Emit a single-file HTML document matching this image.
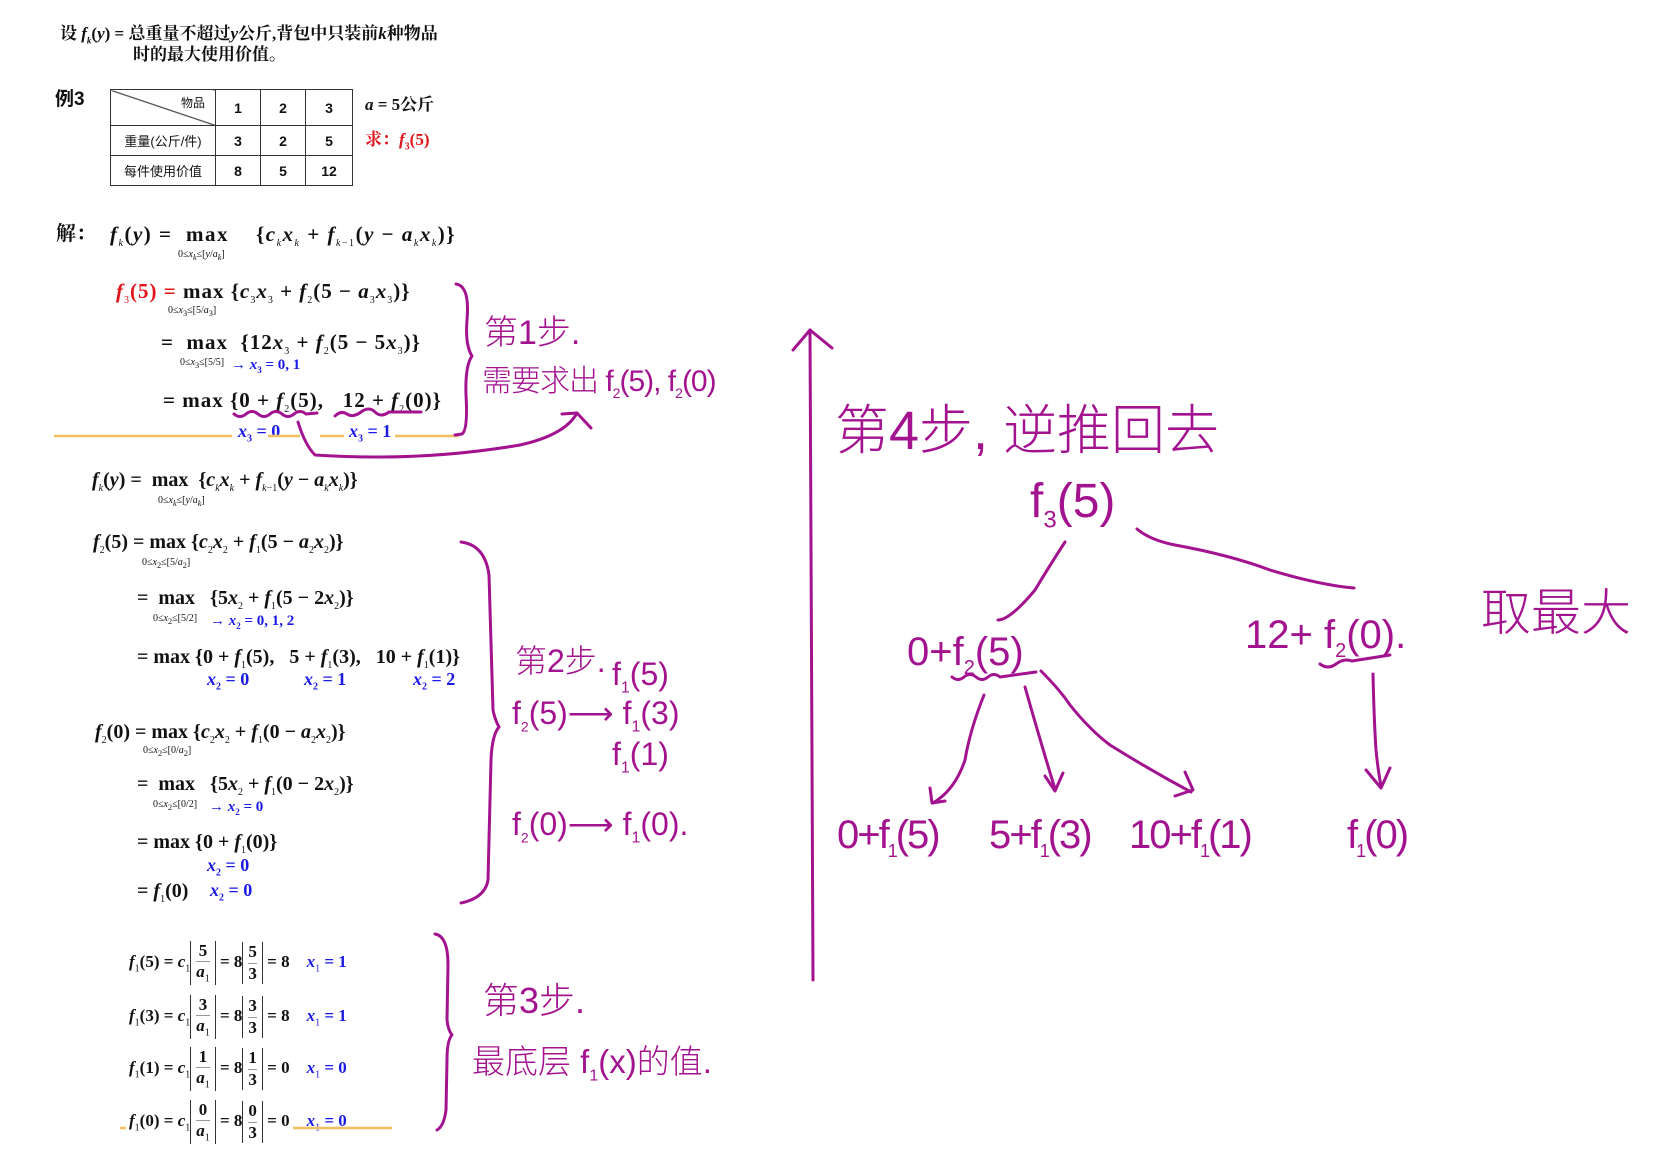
<!DOCTYPE html>
<html><head><meta charset="utf-8">
<style>
body{margin:0;background:#fff;}
#c{position:relative;width:1674px;height:1165px;overflow:hidden;background:#fff;font-family:"Liberation Serif","Noto Serif CJK SC",serif;color:#111;}
.t{position:absolute;white-space:nowrap;line-height:1;}
.m{font-weight:bold;font-size:21px;}
.i{font-style:italic;}
.b{color:#1a1ae6;font-weight:bold;}
.r{color:#e0161b;}
.s{font-size:10px;font-weight:normal;}
.h{color:#a3128f;font-family:"Liberation Sans","Noto Sans CJK SC",sans-serif;font-weight:300;}
.cn{font-family:"Liberation Serif","Noto Serif CJK SC",serif;}
table{border-collapse:collapse;position:absolute;left:110px;top:89px;font-family:"Liberation Sans","Noto Sans CJK SC",sans-serif;font-size:14px;font-weight:bold;}
td{border:1.5px solid #333;text-align:center;padding:0;}
.fr{display:inline-block;vertical-align:middle;text-align:center;border-left:1.5px solid #333;border-right:1.5px solid #333;padding:0 5px;font-size:17px;line-height:1.2;}
.fr span{display:block;}
.fr .n{border-bottom:1px solid #999;}
</style></head><body><div id="c">

<div class="t cn" style="left:60px;top:25px;font-size:17px;font-weight:bold;">设 <i>f<sub style="font-size:9px">k</sub></i>(<i>y</i>) = 总重量不超过<i>y</i>公斤,背包中只装前<i>k</i>种物品</div>
<div class="t cn" style="left:133px;top:46px;font-size:17px;font-weight:bold;">时的最大使用价值。</div>

<div class="t" style="left:55px;top:90px;font-size:19px;font-weight:bold;font-family:'Liberation Sans','Noto Sans CJK SC',sans-serif;">例3</div>
<table>
<tr style="height:36px"><td style="width:104px;position:relative;background:linear-gradient(to bottom left,transparent 48.5%,#555 49.5%,#555 50.5%,transparent 51.5%);"><span style="position:absolute;right:10px;top:4px;font-size:12px;font-weight:normal">物品</span></td><td style="width:44px">1</td><td style="width:44px">2</td><td style="width:46px">3</td></tr>
<tr style="height:30px"><td style="font-weight:normal;font-size:13px;">重量(公斤/件)</td><td>3</td><td>2</td><td>5</td></tr>
<tr style="height:30px"><td style="font-weight:normal;font-size:13px;">每件使用价值</td><td>8</td><td>5</td><td>12</td></tr>
</table>
<div class="t m" style="left:365px;top:96px;font-size:17px;"><i>a</i> = 5公斤</div>
<div class="t m r" style="left:365px;top:131px;font-size:17px;">求：<i>f</i><sub style="font-size:10px">3</sub>(5)</div>

<!-- block 1 -->
<div class="t m" style="left:56px;top:224px;font-size:20px;">解：</div>
<div class="t m" style="left:110px;top:224px;letter-spacing:1.5px;"><i>f<sub class="s">k</sub></i>(<i>y</i>) = &nbsp;max &nbsp;&nbsp;&nbsp;{<i>c<sub class="s">k</sub>x<sub class="s">k</sub></i> + <i>f<sub class="s">k</sub></i><sub class="s">−1</sub>(<i>y</i> − <i>a<sub class="s">k</sub>x<sub class="s">k</sub></i>)}</div>
<div class="t s" style="left:178px;top:250px;">0≤<i>x<sub>k</sub></i>≤[<i>y</i>/<i>a<sub>k</sub></i>]</div>

<div class="t m" style="left:116px;top:281px;letter-spacing:1px;"><span class="r"><i>f</i><sub class="s">3</sub>(5) =</span> max {<i>c</i><sub class="s">3</sub><i>x</i><sub class="s">3</sub> + <i>f</i><sub class="s">2</sub>(5 − <i>a</i><sub class="s">3</sub><i>x</i><sub class="s">3</sub>)}</div>
<div class="t s" style="left:168px;top:306px;">0≤<i>x</i><sub>3</sub>≤[5/<i>a</i><sub>3</sub>]</div>

<div class="t m" style="left:161px;top:332px;letter-spacing:1px;">= &nbsp;max &nbsp;{12<i>x</i><sub class="s">3</sub> + <i>f</i><sub class="s">2</sub>(5 − 5<i>x</i><sub class="s">3</sub>)}</div>
<div class="t s" style="left:180px;top:358px;">0≤<i>x</i><sub>3</sub>≤[5/5]</div>
<div class="t b" style="left:231px;top:358px;font-size:15px;">→ <i>x</i><sub style="font-size:9px">3</sub> = 0, 1</div>

<div class="t m" style="left:163px;top:390px;letter-spacing:1px;">= max {0 + <i>f</i><sub class="s">2</sub>(5), &nbsp;&nbsp;12 + <i>f</i><sub class="s">2</sub>(0)}</div>
<div class="t b" style="left:238px;top:422px;font-size:18px;"><i>x</i><sub style="font-size:10px">3</sub> = 0</div>
<div class="t b" style="left:349px;top:422px;font-size:18px;"><i>x</i><sub style="font-size:10px">3</sub> = 1</div>

<!-- block 2 -->
<div class="t m" style="left:92px;top:470px;font-size:20px;"><i>f<sub class="s">k</sub></i>(<i>y</i>) = &nbsp;max &nbsp;{<i>c<sub class="s">k</sub>x<sub class="s">k</sub></i> + <i>f<sub class="s">k</sub></i><sub class="s">−1</sub>(<i>y</i> − <i>a<sub class="s">k</sub>x<sub class="s">k</sub></i>)}</div>
<div class="t s" style="left:158px;top:496px;">0≤<i>x<sub>k</sub></i>≤[<i>y</i>/<i>a<sub>k</sub></i>]</div>

<div class="t m" style="left:93px;top:532px;font-size:20px;"><i>f</i><sub class="s">2</sub>(5) = max {<i>c</i><sub class="s">2</sub><i>x</i><sub class="s">2</sub> + <i>f</i><sub class="s">1</sub>(5 − <i>a</i><sub class="s">2</sub><i>x</i><sub class="s">2</sub>)}</div>
<div class="t s" style="left:142px;top:558px;">0≤<i>x</i><sub>2</sub>≤[5/<i>a</i><sub>2</sub>]</div>

<div class="t m" style="left:137px;top:588px;font-size:20px;">= &nbsp;max &nbsp;&nbsp;{5<i>x</i><sub class="s">2</sub> + <i>f</i><sub class="s">1</sub>(5 − 2<i>x</i><sub class="s">2</sub>)}</div>
<div class="t s" style="left:153px;top:614px;">0≤<i>x</i><sub>2</sub>≤[5/2]</div>
<div class="t b" style="left:210px;top:614px;font-size:15px;">→ <i>x</i><sub style="font-size:9px">2</sub> = 0, 1, 2</div>

<div class="t m" style="left:137px;top:647px;font-size:20px;">= max {0 + <i>f</i><sub class="s">1</sub>(5), &nbsp;&nbsp;5 + <i>f</i><sub class="s">1</sub>(3), &nbsp;&nbsp;10 + <i>f</i><sub class="s">1</sub>(1)}</div>
<div class="t b" style="left:207px;top:670px;font-size:18px;"><i>x</i><sub style="font-size:10px">2</sub> = 0</div>
<div class="t b" style="left:304px;top:670px;font-size:18px;"><i>x</i><sub style="font-size:10px">2</sub> = 1</div>
<div class="t b" style="left:413px;top:670px;font-size:18px;"><i>x</i><sub style="font-size:10px">2</sub> = 2</div>

<div class="t m" style="left:95px;top:722px;font-size:20px;"><i>f</i><sub class="s">2</sub>(0) = max {<i>c</i><sub class="s">2</sub><i>x</i><sub class="s">2</sub> + <i>f</i><sub class="s">1</sub>(0 − <i>a</i><sub class="s">2</sub><i>x</i><sub class="s">2</sub>)}</div>
<div class="t s" style="left:143px;top:746px;">0≤<i>x</i><sub>2</sub>≤[0/<i>a</i><sub>2</sub>]</div>

<div class="t m" style="left:137px;top:774px;font-size:20px;">= &nbsp;max &nbsp;&nbsp;{5<i>x</i><sub class="s">2</sub> + <i>f</i><sub class="s">1</sub>(0 − 2<i>x</i><sub class="s">2</sub>)}</div>
<div class="t s" style="left:153px;top:800px;">0≤<i>x</i><sub>2</sub>≤[0/2]</div>
<div class="t b" style="left:209px;top:800px;font-size:15px;">→ <i>x</i><sub style="font-size:9px">2</sub> = 0</div>

<div class="t m" style="left:137px;top:832px;font-size:20px;">= max {0 + <i>f</i><sub class="s">1</sub>(0)}</div>
<div class="t b" style="left:207px;top:856px;font-size:18px;"><i>x</i><sub style="font-size:10px">2</sub> = 0</div>
<div class="t m" style="left:137px;top:881px;font-size:20px;">= <i>f</i><sub class="s">1</sub>(0)</div>
<div class="t b" style="left:210px;top:881px;font-size:18px;"><i>x</i><sub style="font-size:10px">2</sub> = 0</div>

<!-- block 3 -->
<div class="t m" style="left:129px;top:938px;font-size:17px;line-height:48px;"><i>f</i><sub class="s">1</sub>(5) = <i>c</i><sub class="s">1</sub><span class="fr"><span class="n">5</span><span><i>a</i><sub class="s">1</sub></span></span> = 8<span class="fr"><span class="n">5</span><span>3</span></span> = 8 &nbsp;&nbsp;&nbsp;<span class="b"><i>x</i><sub class="s">1</sub> = 1</span></div>
<div class="t m" style="left:129px;top:992px;font-size:17px;line-height:48px;"><i>f</i><sub class="s">1</sub>(3) = <i>c</i><sub class="s">1</sub><span class="fr"><span class="n">3</span><span><i>a</i><sub class="s">1</sub></span></span> = 8<span class="fr"><span class="n">3</span><span>3</span></span> = 8 &nbsp;&nbsp;&nbsp;<span class="b"><i>x</i><sub class="s">1</sub> = 1</span></div>
<div class="t m" style="left:129px;top:1044px;font-size:17px;line-height:48px;"><i>f</i><sub class="s">1</sub>(1) = <i>c</i><sub class="s">1</sub><span class="fr"><span class="n">1</span><span><i>a</i><sub class="s">1</sub></span></span> = 8<span class="fr"><span class="n">1</span><span>3</span></span> = 0 &nbsp;&nbsp;&nbsp;<span class="b"><i>x</i><sub class="s">1</sub> = 0</span></div>
<div class="t m" style="left:129px;top:1097px;font-size:17px;line-height:48px;"><i>f</i><sub class="s">1</sub>(0) = <i>c</i><sub class="s">1</sub><span class="fr"><span class="n">0</span><span><i>a</i><sub class="s">1</sub></span></span> = 8<span class="fr"><span class="n">0</span><span>3</span></span> = 0 &nbsp;&nbsp;&nbsp;<span class="b"><i>x</i><sub class="s">1</sub> = 0</span></div>

<!-- handwritten text -->
<div class="t h" style="left:484px;top:316px;font-size:34px;">第1步.</div>
<div class="t h" style="left:482px;top:367px;font-size:30px;letter-spacing:-1px;">需要求出 f<sub style="font-size:14px">2</sub>(5), f<sub style="font-size:14px">2</sub>(0)</div>

<div class="t h" style="left:515px;top:645px;font-size:32px;">第2步.</div>
<div class="t h" style="left:612px;top:658px;font-size:32px;">f<sub style="font-size:16px">1</sub>(5)</div>
<div class="t h" style="left:512px;top:697px;font-size:32px;">f<sub style="font-size:14px">2</sub>(5)⟶ f<sub style="font-size:16px">1</sub>(3)</div>
<div class="t h" style="left:612px;top:738px;font-size:32px;">f<sub style="font-size:16px">1</sub>(1)</div>
<div class="t h" style="left:512px;top:808px;font-size:32px;">f<sub style="font-size:14px">2</sub>(0)⟶ f<sub style="font-size:16px">1</sub>(0).</div>

<div class="t h" style="left:483px;top:983px;font-size:36px;">第3步.</div>
<div class="t h" style="left:472px;top:1045px;font-size:33px;">最底层 f<sub style="font-size:16px">1</sub>(x)的值.</div>

<div class="t h" style="left:835px;top:404px;font-size:54px;">第4步, 逆推回去</div>
<div class="t h" style="left:1030px;top:478px;font-size:48px;">f<sub style="font-size:24px">3</sub>(5)</div>
<div class="t h" style="left:907px;top:632px;font-size:40px;">0+f<sub style="font-size:20px">2</sub>(5)</div>
<div class="t h" style="left:1245px;top:615px;font-size:40px;">12+ f<sub style="font-size:20px">2</sub>(0).</div>
<div class="t h" style="left:1481px;top:588px;font-size:50px;">取最大</div>
<div class="t h" style="left:837px;top:815px;font-size:40px;letter-spacing:-2px;">0+f<sub style="font-size:18px">1</sub>(5)</div>
<div class="t h" style="left:989px;top:815px;font-size:40px;letter-spacing:-2px;">5+f<sub style="font-size:18px">1</sub>(3)</div>
<div class="t h" style="left:1129px;top:815px;font-size:40px;letter-spacing:-2px;">10+f<sub style="font-size:18px">1</sub>(1)</div>
<div class="t h" style="left:1347px;top:815px;font-size:40px;letter-spacing:-2px;">f<sub style="font-size:18px">1</sub>(0)</div>

<svg width="1674" height="1165" style="position:absolute;left:0;top:0" fill="none">
<g stroke="#f0c060" stroke-width="2.5">
<line x1="54" y1="436" x2="232" y2="436"/><line x1="268" y1="436" x2="300" y2="436"/><line x1="320" y1="436" x2="344" y2="436"/><line x1="395" y1="436" x2="459" y2="436"/>
<line x1="120" y1="1128" x2="126" y2="1128"/><line x1="293" y1="1128" x2="392" y2="1128"/>
</g>
<g stroke="#a3128f" stroke-width="3" stroke-linecap="round" stroke-linejoin="round">
<path d="M456 284 Q470 286 467 320 Q465 345 472 356 Q465 366 466 395 Q468 430 462 434 L455 435"/>
<path d="M298 422 Q305 445 315 455 Q420 462 520 445 Q565 435 577 413"/>
<path d="M562 414 L577 413 L591 428"/>
<path d="M234 414 q6 5 12 0 t12 0 t12 0 t12 0 t12 0 t12 0 L317 413"/>
<path d="M335 416 q6 -6 12 -2 t14 -2 t14 0 t14 0 L421 412"/>
<path d="M461 542 Q485 545 489 575 L493 710 Q495 720 499 727 Q492 735 491 760 L488 880 Q485 898 461 903"/>
<path d="M435 934 Q448 936 448 965 L447 1020 Q448 1030 452 1035 Q447 1040 447 1060 L446 1110 Q444 1126 437 1130"/>
<!-- axis -->
<path d="M810 330 Q811 600 812 760 Q813 900 813 980"/>
<path d="M793 350 L810 330 L832 348"/>
<!-- tree -->
<path d="M1065 542 Q1050 565 1035 590 Q1010 620 998 620"/>
<path d="M1137 529 Q1150 540 1175 545 Q1230 555 1270 570 Q1320 585 1354 588"/>
<path d="M952 677 q6 5 12 0 t12 0 t12 0 t12 0 L1036 672"/>
<path d="M1320 664 q8 6 16 0 t16 -3 L1390 655"/>
<path d="M984 695 Q970 730 965 760 Q955 790 933 803"/>
<path d="M930 788 L932 803 L945 801"/>
<path d="M1025 687 Q1040 740 1055 789"/>
<path d="M1045 776 L1055 791 L1063 773"/>
<path d="M1041 671 Q1060 690 1070 705 Q1090 730 1110 745 Q1150 770 1191 792"/>
<path d="M1185 772 L1193 790 L1175 796"/>
<path d="M1373 674 Q1374 720 1376 750 Q1378 770 1381 786"/>
<path d="M1366 770 L1381 788 L1390 768"/>
</g>
</svg>
</div></body></html>
